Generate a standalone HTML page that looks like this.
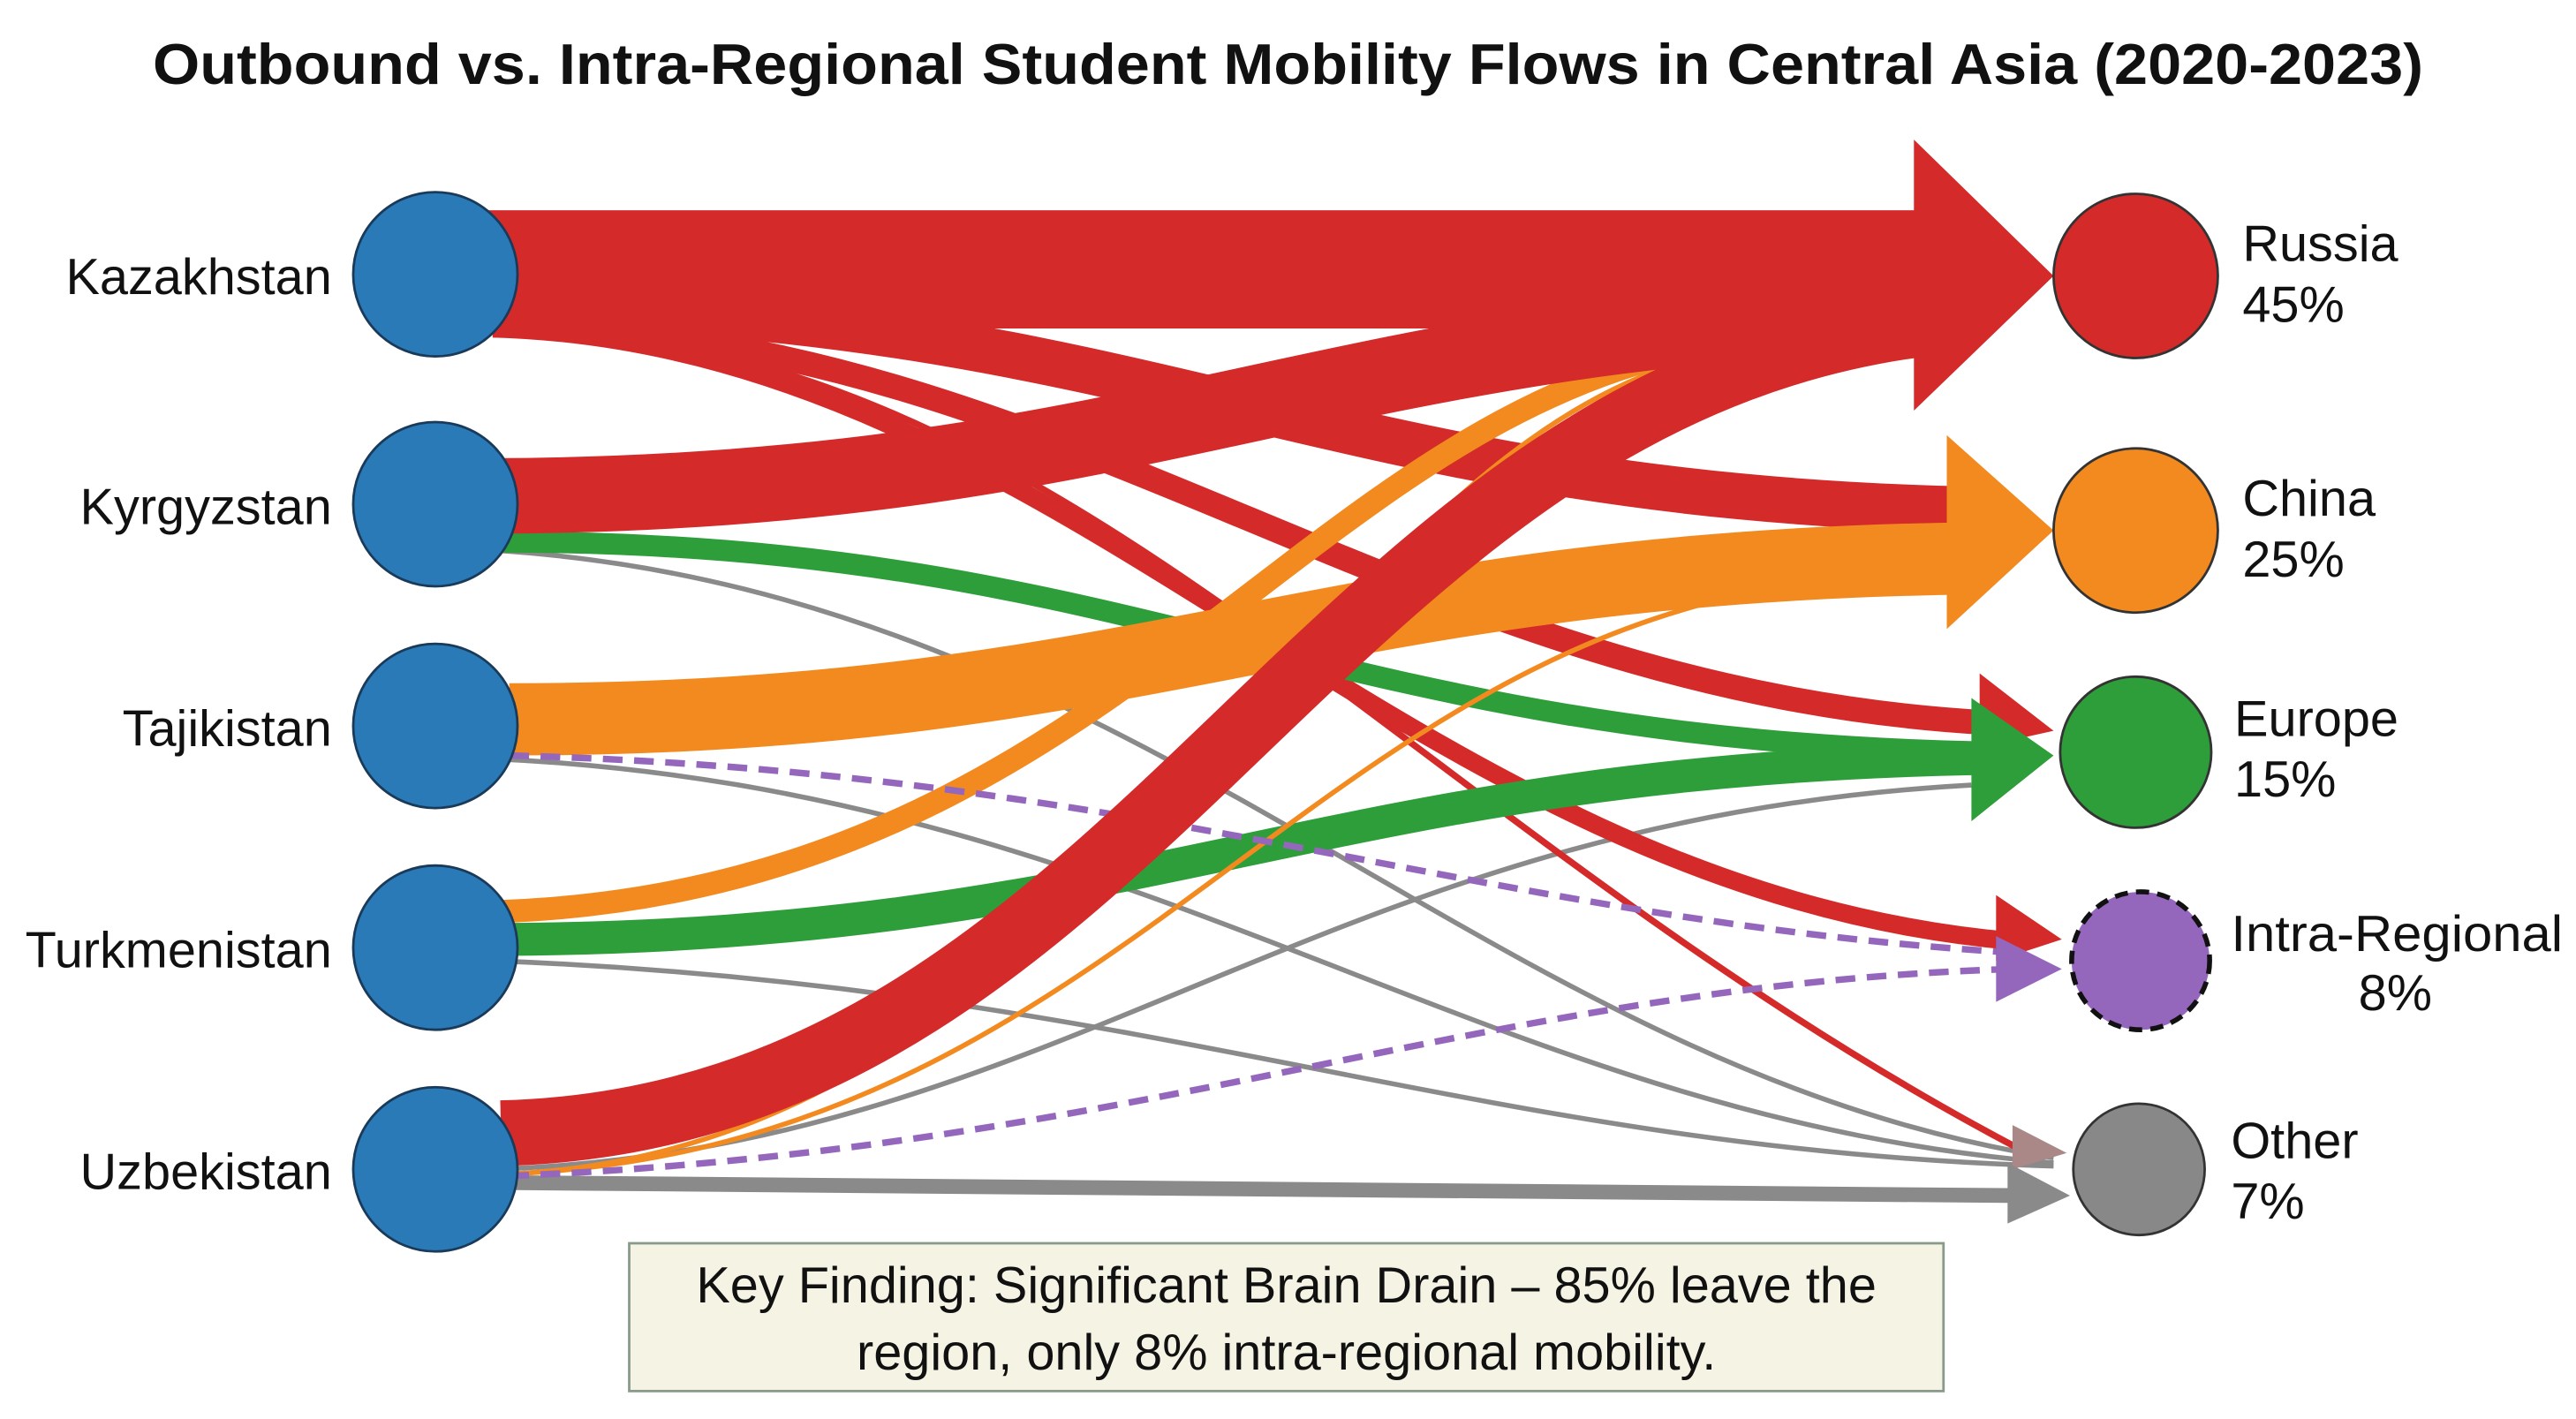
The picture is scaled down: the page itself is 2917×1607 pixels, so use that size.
<!DOCTYPE html>
<html><head><meta charset="utf-8"><style>
html,body{margin:0;padding:0;background:#fff;}
svg{display:block;}
text{font-family:"Liberation Sans",Arial,sans-serif;fill:#111;}
</style></head><body>
<svg width="2917" height="1607" viewBox="0 0 1568 864" preserveAspectRatio="none" xmlns="http://www.w3.org/2000/svg">
<rect width="1568" height="864" fill="#fff"/>
<text x="93" y="51" font-size="35" font-weight="bold" textLength="1382" lengthAdjust="spacingAndGlyphs">Outbound vs. Intra-Regional Student Mobility Flows in Central Asia (2020-2023)</text>

<g fill="none" stroke-linecap="butt">
<path d="M300,335 C700,360 900,650 1250,705" stroke="#8a8a8a" stroke-width="3"/>
<path d="M300,462 C700,480 900,680 1250,708" stroke="#8a8a8a" stroke-width="3"/>
<path d="M300,585 C700,600 900,700 1250,710" stroke="#8a8a8a" stroke-width="3"/>
<path d="M300,712 C650,700 800,500 1200,478" stroke="#8a8a8a" stroke-width="3"/>
<path d="M300,720 L1230,728" stroke="#8a8a8a" stroke-width="9"/>
<path d="M300,200 C650,200 850,500 1230,700" stroke="#d42a2a" stroke-width="4"/>
<path d="M300,200 C650,210 850,540 1225,573" stroke="#d42a2a" stroke-width="11"/>
<path d="M300,198 C650,200 850,420 1210,440" stroke="#d42a2a" stroke-width="15"/>
<path d="M300,185 C700,190 800,300 1190,310" stroke="#d42a2a" stroke-width="28"/>
<path d="M305,330 C700,330 800,450 1210,458" stroke="#2e9e3a" stroke-width="13"/>
<path d="M305,572 C700,570 800,470 1200,462" stroke="#2e9e3a" stroke-width="20"/>
<path d="M310,438 C700,438 800,345 1200,340" stroke="#f28a1f" stroke-width="44"/>
<path d="M305,555 C700,540 800,220 1090,205" stroke="#f28a1f" stroke-width="14"/>
<path d="M305,715 C700,700 800,360 1160,350" stroke="#f28a1f" stroke-width="3"/>
<path d="M305,715 C700,700 800,230 1080,210" stroke="#f28a1f" stroke-width="3"/>
<path d="M310,460 C700,470 900,560 1225,580" stroke="#9467bd" stroke-width="4" stroke-dasharray="12,7"/>
<path d="M310,716 C700,700 900,600 1225,590" stroke="#9467bd" stroke-width="4" stroke-dasharray="12,7"/>
<path d="M305,690 C700,680 800,230 1190,195" stroke="#d42a2a" stroke-width="40"/>
<path d="M300,302 C700,300 800,200 1180,190" stroke="#d42a2a" stroke-width="46"/>
<path d="M290,164 L1175,164" stroke="#d42a2a" stroke-width="72"/>
</g>
<polygon points="1165,85 1250,168 1165,250" fill="#d42a2a"/>
<polygon points="1185,265 1250,323 1185,383" fill="#f28a1f"/>
<polygon points="1205,410 1250,445 1205,455" fill="#d42a2a"/>
<polygon points="1200,425 1250,460 1200,500" fill="#2e9e3a"/>
<polygon points="1215,545 1255,572 1215,585" fill="#d42a2a"/>
<polygon points="1215,570 1255,590 1215,610" fill="#9467bd"/>
<polygon points="1225,685 1258,702 1225,712" fill="#a88"/>
<polygon points="1222,708 1260,728 1222,745" fill="#8a8a8a"/>

<g fill="#2a7ab8" stroke="#1a3a5a" stroke-width="1.5">
<circle cx="265" cy="167" r="50"/><circle cx="265" cy="307" r="50"/><circle cx="265" cy="442" r="50"/><circle cx="265" cy="577" r="50"/><circle cx="265" cy="712" r="50"/>
</g>
<g font-size="31" text-anchor="end">
<text x="202" y="179">Kazakhstan</text><text x="202" y="319">Kyrgyzstan</text><text x="202" y="454">Tajikistan</text><text x="202" y="589">Turkmenistan</text><text x="202" y="724">Uzbekistan</text>
</g>
<circle cx="1300" cy="168" r="50" fill="#d42a2a" stroke="#333" stroke-width="1.5"/>
<circle cx="1300" cy="323" r="50" fill="#f28a1f" stroke="#333" stroke-width="1.5"/>
<circle cx="1300" cy="458" r="46" fill="#2e9e3a" stroke="#333" stroke-width="1.5"/>
<circle cx="1303" cy="585" r="42" fill="#9467bd" stroke="#111" stroke-width="3" stroke-dasharray="8,5"/>
<circle cx="1302" cy="712" r="40" fill="#888" stroke="#333" stroke-width="1.5"/>
<g font-size="31">
<text x="1365" y="159">Russia</text><text x="1365" y="196">45%</text>
<text x="1365" y="314">China</text><text x="1365" y="351">25%</text>
<text x="1360" y="448">Europe</text><text x="1360" y="485">15%</text>
<text x="1358" y="579" textLength="202" lengthAdjust="spacingAndGlyphs">Intra-Regional</text><text x="1458" y="615" text-anchor="middle">8%</text>
<text x="1358" y="705">Other</text><text x="1358" y="742">7%</text>
</g>
<rect x="383" y="757" width="800" height="90" fill="#f5f3e3" stroke="#8a9a8a" stroke-width="1.5"/>
<g font-size="31" text-anchor="middle">
<text x="783" y="793">Key Finding: Significant Brain Drain – 85% leave the</text>
<text x="783" y="834">region, only 8% intra-regional mobility.</text>
</g>
</svg>
</body></html>
